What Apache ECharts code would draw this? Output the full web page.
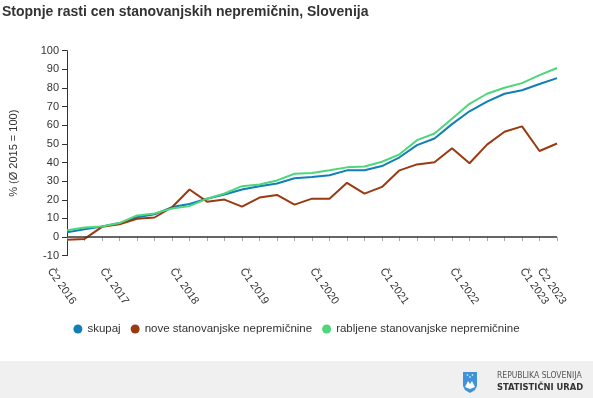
<!DOCTYPE html>
<html>
<head>
<meta charset="utf-8">
<script src="https://cdn.jsdelivr.net/npm/echarts@6/dist/echarts.min.js"></script>
<style>
  html, body { margin: 0; padding: 0; background: #fff; }
  #chart { width: 593px; height: 398px; }
</style>
</head>
<body>
<div id="chart"></div>
<script>
// kvartali
var categories = [
  "Č2 2016", "Č3 2016", "Č4 2016",
  "Č1 2017", "Č2 2017", "Č3 2017", "Č4 2017",
  "Č1 2018", "Č2 2018", "Č3 2018", "Č4 2018",
  "Č1 2019", "Č2 2019", "Č3 2019", "Č4 2019",
  "Č1 2020", "Č2 2020", "Č3 2020", "Č4 2020",
  "Č1 2021", "Č2 2021", "Č3 2021", "Č4 2021",
  "Č1 2022", "Č2 2022", "Č3 2022", "Č4 2022",
  "Č1 2023", "Č2 2023"
];
// oznake na osi: prvi kvartali let + prvi in zadnji kvartal
var yearLabels = ["Č1 2017", "Č1 2018", "Č1 2019", "Č1 2020", "Č1 2021", "Č1 2022", "Č1 2023"];
var endLabels = ["Č2 2016", "Č2 2023"];

var skupaj = [2.6, 4.2, 5.7, 7.5, 10.6, 12.2, 16.1, 17.7, 20.6, 22.8, 25.5, 27.3, 28.7, 31.6, 32.2,
  33.2, 35.8, 35.8, 38.1, 42.8, 49.3, 52.9, 60.6, 67.5, 72.7, 76.9, 78.8, 82.1, 85.3];
var nove = [-1.5, -1.0, 5.5, 6.9, 9.8, 10.5, 16.0, 25.5, 19.0, 20.1, 16.3, 21.2, 22.6, 17.4, 20.6,
  20.6, 29.1, 23.3, 26.9, 35.8, 39.0, 40.1, 47.7, 39.6, 49.6, 56.5, 59.4, 46.2, 50.2];
var rabljene = [3.7, 5.1, 5.7, 7.5, 11.6, 12.7, 15.3, 16.6, 20.6, 23.4, 27.3, 28.2, 30.4, 34.0, 34.4,
  35.8, 37.4, 37.9, 40.4, 44.4, 52.0, 55.6, 63.5, 71.5, 76.9, 80.1, 82.6, 86.9, 90.7];

var yMin = -10, yMax = 100, yStep = 10;

function xLabel(list) {
  return {
    interval: function (index, value) { return list.indexOf(value) >= 0; },
    hideOverlap: false,
    rotate: -55,
    align: "left",
    verticalAlign: "top",
    lineHeight: 42,
    margin: 1.5,
    fontFamily: "Liberation Sans",
    fontSize: 11,
    color: "#333"
  };
}

var chart = echarts.init(document.getElementById("chart"));
var option = {
  backgroundColor: "#fff",
  animation: false,
  title: {
    text: "Stopnje rasti cen stanovanjskih nepremičnin, Slovenija",
    left: -3,
    top: 0,
    textStyle: { fontFamily: "Liberation Sans", fontSize: 14, fontWeight: "bold", color: "#333" }
  },
  legend: {
    data: ["skupaj", "nove stanovanjske nepremičnine", "rabljene stanovanjske nepremičnine"],
    left: "center",
    top: 318,
    icon: "circle",
    itemWidth: 9,
    itemHeight: 9,
    itemGap: 10,
    textStyle: { fontFamily: "Liberation Sans", fontSize: 11.5, color: "#333" }
  },
  grid: { left: 58, right: 36, top: 50.7, bottom: 142.3 },
  xAxis: [
    {
      type: "category",
      position: "bottom",
      data: categories,
      boundaryGap: false,
      axisLine: { show: false },
      axisTick: { show: true, interval: 0, length: 4, lineStyle: { color: "#aaa" } },
      axisLabel: xLabel(yearLabels)
    },
    {
      type: "category",
      position: "bottom",
      data: categories,
      boundaryGap: false,
      axisLine: { show: false },
      axisTick: { show: false },
      axisLabel: xLabel(endLabels)
    }
  ],
  yAxis: {
    type: "value",
    min: yMin,
    max: yMax,
    interval: yStep,
    name: "% (Ø 2015 = 100)",
    nameLocation: "middle",
    nameGap: 48,
    nameTextStyle: { fontFamily: "Liberation Sans", fontSize: 11, color: "#333" },
    splitLine: { show: false },
    axisLine: { show: true, lineStyle: { color: "#333", width: 1 } },
    axisTick: { show: true, length: 5, lineStyle: { color: "#333" } },
    axisLabel: { margin: 8, fontFamily: "Liberation Sans", fontSize: 11, color: "#333" }
  },
  series: [
    {
      name: "skupaj",
      type: "line",
      data: skupaj,
      symbol: "none",
      itemStyle: { color: "#117eb8" },
      lineStyle: { color: "#117eb8", width: 2 },
      markLine: {
        silent: true,
        symbol: "none",
        label: { show: false },
        lineStyle: { color: "#333", width: 1.5, type: "solid" },
        data: [{ yAxis: 0 }]
      }
    },
    {
      name: "nove stanovanjske nepremičnine",
      type: "line",
      data: nove,
      symbol: "none",
      itemStyle: { color: "#993a10" },
      lineStyle: { color: "#993a10", width: 2 }
    },
    {
      name: "rabljene stanovanjske nepremičnine",
      type: "line",
      data: rabljene,
      symbol: "none",
      itemStyle: { color: "#4dd67a" },
      lineStyle: { color: "#4dd67a", width: 2 }
    }
  ],
  graphic: [
    {
      type: "rect",
      shape: { x: 0, y: 361, width: 593, height: 37 },
      style: { fill: "#f0f0f0" },
      silent: true
    },
    {
      // grb
      type: "polygon",
      shape: { points: [[463, 372], [477, 372], [477, 386], [475, 390], [470, 393], [465, 390], [463, 386]] },
      style: { fill: "#3f93d6" },
      silent: true
    },
    {
      type: "polygon",
      shape: { points: [[465, 387], [468, 381], [470, 384], [472, 381], [475, 387], [470, 389]] },
      style: { fill: "#fff" },
      silent: true
    },
    { type: "circle", shape: { cx: 467.5, cy: 375, r: 0.8 }, style: { fill: "#fff" }, silent: true },
    { type: "circle", shape: { cx: 470, cy: 377, r: 0.8 }, style: { fill: "#fff" }, silent: true },
    { type: "circle", shape: { cx: 472.5, cy: 375, r: 0.8 }, style: { fill: "#fff" }, silent: true },
    {
      type: "text",
      left: 497,
      top: 371,
      style: { text: "REPUBLIKA SLOVENIJA", font: "8.5px 'DejaVu Sans Condensed', 'Liberation Sans Narrow', sans-serif", fill: "#555" },
      silent: true
    },
    {
      type: "text",
      left: 497,
      top: 383,
      style: { text: "STATISTIČNI URAD", font: "bold 9.3px 'DejaVu Sans Condensed', 'Liberation Sans Narrow', sans-serif", fill: "#333" },
      silent: true
    }
  ]
};
chart.setOption(option);
</script>
</body>
</html>
